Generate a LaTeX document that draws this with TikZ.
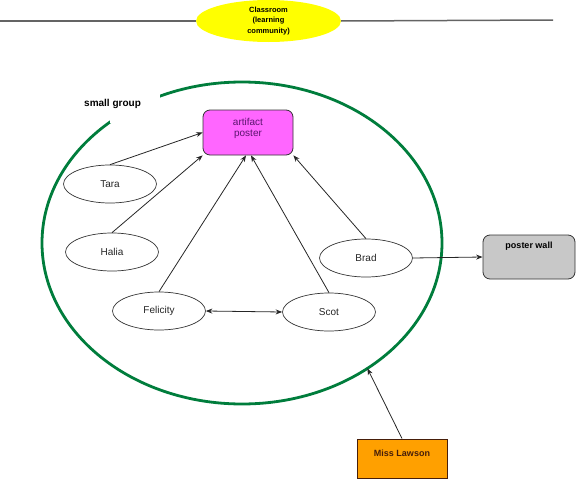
\documentclass[tikz,border=0pt]{standalone}
\usepackage{fontspec}
\setmainfont{Liberation Sans}
\usetikzlibrary{shapes.geometric,arrows.meta}
\definecolor{grpgreen}{RGB}{0,125,60}
\definecolor{magbox}{RGB}{255,102,255}
\definecolor{purtext}{RGB}{90,20,110}
\definecolor{wallgray}{RGB}{200,200,200}
\definecolor{laworange}{RGB}{255,160,0}
\definecolor{lawtext}{RGB}{70,30,10}
\definecolor{linegray}{RGB}{100,100,100}
\definecolor{titleyellow}{RGB}{255,255,0}
\begin{document}
\begin{tikzpicture}[x=1pt,y=-1pt,
  >={Stealth[length=6.5pt,width=5pt]},
  person/.style={ellipse,draw=black!80,line width=0.7pt,fill=white,minimum width=93pt,minimum height=38pt,inner sep=0pt,font=\fontsize{10}{12}\selectfont,text=black!85},
  conn/.style={draw=black!85,line width=0.8pt,->},
  dconn/.style={draw=black!85,line width=0.8pt,<->},
  boxtxt/.style={font=\bfseries\fontsize{9}{11}\selectfont,inner sep=0pt},
  hline/.style={draw=linegray,line width=1.5pt},
]
\useasboundingbox (0,0) rectangle (576,479);

% title and horizontal lines
\coordinate (lineL) at (0,21);
\coordinate (lineR) at (553,20);
\node[ellipse,fill=titleyellow,minimum width=145pt,minimum height=42pt,inner sep=0pt,
      align=center,font=\bfseries\fontsize{7.5}{10.5}\selectfont] (title) at (268.5,21)
      {Classroom\\(learning\\community)};
\draw[hline] (lineL) -- (title.west);
\draw[hline] (title.east) -- (lineR);

% small group ellipse
\node[ellipse,draw=grpgreen,line width=2.8pt,minimum width=400pt,minimum height=322pt,
      inner sep=0pt,outer sep=0pt] (grp) at (242,243) {};
\fill[white] (110,92) rectangle (160,123);
\node[anchor=west,font=\bfseries\fontsize{10}{12}\selectfont,inner sep=0pt] (sg) at (84,104) {small group};

% artifact poster
\node[rectangle,rounded corners=7pt,draw=black!80,line width=0.8pt,fill=magbox,
      minimum width=90pt,minimum height=45pt,inner sep=0pt] (art) at (248,132.5) {};
\node[align=center,text=purtext,font=\fontsize{10}{11}\selectfont,inner sep=0pt] (arttxt) at (248,128) {artifact\\poster};

% people
\node[person] (tara) at (110,184) {Tara};
\node[person] (halia) at (112,252) {Halia};
\node[person] (fel) at (159,311) {Felicity};
\node[person] (scot) at (329,312) {Scot};
\node[person] (brad) at (366,258) {Brad};

% poster wall
\node[rectangle,rounded corners=7pt,draw=black!80,line width=0.8pt,fill=wallgray,
      minimum width=92pt,minimum height=44pt,inner sep=0pt] (wall) at (529,257) {};
\node[boxtxt] (walltxt) at (529,246) {poster wall};

% Miss Lawson
\node[rectangle,draw=lawtext,line width=0.9pt,fill=laworange,
      minimum width=90pt,minimum height=39pt,inner sep=0pt] (law) at (402,458.5) {};
\node[boxtxt,text=lawtext] (lawtxt) at (402,453) {Miss Lawson};

% connectors
\draw[conn] (tara.north) -- (art.west);
\draw[conn] (halia.north) -- (art.south west);
\draw[conn] (fel.north) -- ([xshift=-2pt]art.south);
\draw[conn] (scot.north) -- ([xshift=3pt]art.south);
\draw[conn] (brad.north) -- (art.south east);
\draw[conn] (brad.east) -- (wall.west);
\draw[dconn] (fel.east) -- (scot.west);
\draw[conn] (law.north) -- (grp.-45);
\end{tikzpicture}
\end{document}
